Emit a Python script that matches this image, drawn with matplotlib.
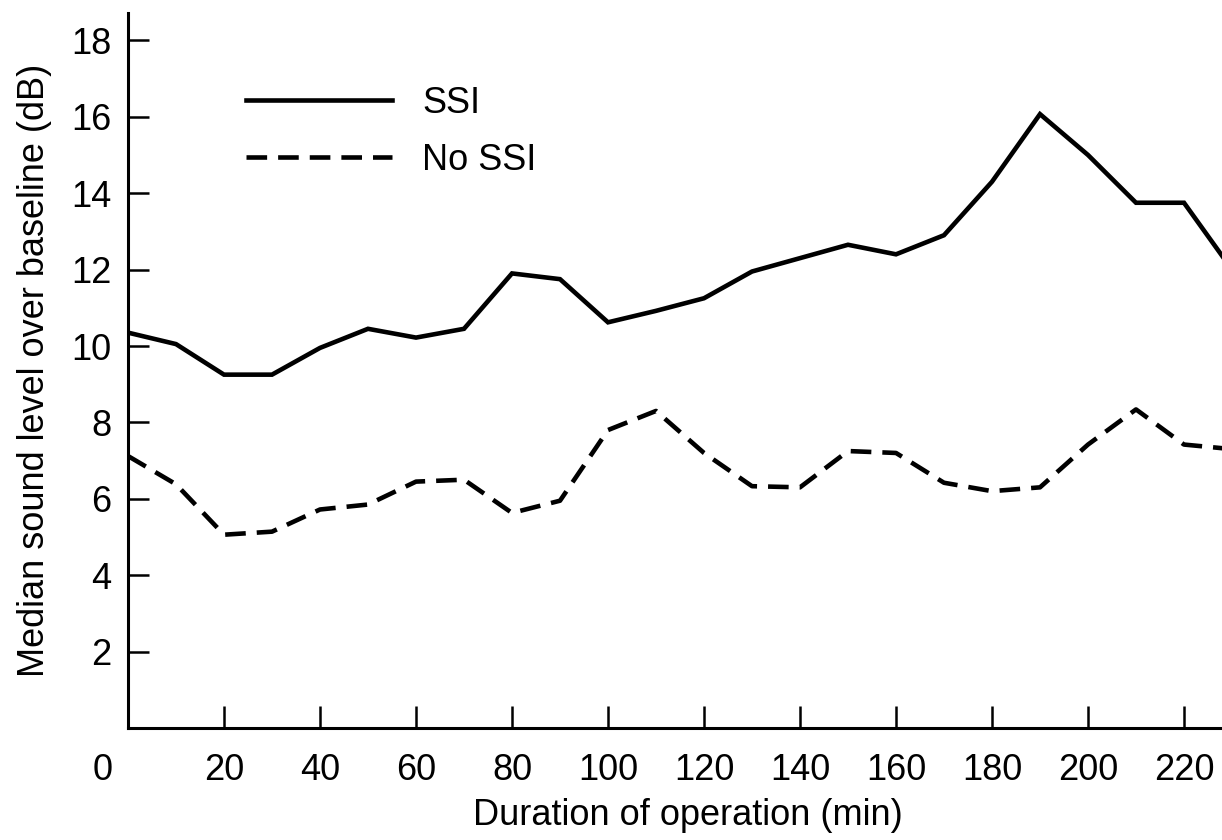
import matplotlib
matplotlib.use("Agg")
import matplotlib.pyplot as plt
from matplotlib.transforms import ScaledTranslation

plt.rcParams['font.family'] = ['Liberation Sans', 'DejaVu Sans']

minutes = [0, 10, 20, 30, 40, 50, 60, 70, 80, 90, 100, 110, 120,
           130, 140, 150, 160, 170, 180, 190, 200, 210, 220, 230]
ssi = [10.35, 10.05, 9.25, 9.25, 9.95, 10.45, 10.22, 10.45, 11.9, 11.75, 10.62, 10.92,
       11.25, 11.95, 12.3, 12.65, 12.4, 12.9, 14.3, 16.07, 15.0, 13.75, 13.75, 12.0]
no_ssi = [7.12, 6.38, 5.06, 5.14, 5.72, 5.85, 6.45, 6.5, 5.63, 5.95, 7.8, 8.3,
          7.2, 6.33, 6.3, 7.25, 7.2, 6.42, 6.2, 6.3, 7.42, 8.34, 7.42, 7.3]
x_ticks = [0, 20, 40, 60, 80, 100, 120, 140, 160, 180, 200, 220]
y_ticks = [2, 4, 6, 8, 10, 12, 14, 16, 18]

W, H = 1222, 840
fig = plt.figure(figsize=(W / 100, H / 100), dpi=100)
left_px, right_px, bottom_px, top_px = 128, 1222, 728, 13
ax = fig.add_axes([left_px / W, 1 - bottom_px / H,
                   (right_px - left_px) / W, (bottom_px - top_px) / H])

lw = 3.3
ax.plot(minutes, ssi, color='black', lw=lw, solid_joinstyle='miter', label='SSI')
ax.plot(minutes, no_ssi, color='black', lw=lw, dashes=(4.5, 2.4),
        dash_capstyle='butt', label='No SSI')

ax.set_xlim(0, (right_px - left_px) / 4.8)
ax.set_ylim(0, (bottom_px - top_px) / 38.2)

for s in ['top', 'right']:
    ax.spines[s].set_visible(False)
for s in ['left', 'bottom']:
    ax.spines[s].set_linewidth(2.2)

ax.set_xticks(x_ticks)
ax.set_yticks(y_ticks)
ax.tick_params(axis='y', direction='in', length=15, width=1.8, pad=12, labelsize=26)
ax.tick_params(axis='x', direction='in', length=16, width=1.8, pad=18, labelsize=26)
ax.xaxis.get_major_ticks()[0].tick1line.set_visible(False)

lbl0 = ax.get_xticklabels()[0]
lbl0.set_transform(lbl0.get_transform() + ScaledTranslation(-0.25, 0, fig.dpi_scale_trans))

ax.set_xlabel('Duration of operation (min)', fontsize=26)
ax.xaxis.set_label_coords(0.512, -0.098)
ax.set_ylabel('Median sound level over baseline (dB)', fontsize=26, labelpad=14)

leg = ax.legend(loc='upper left', bbox_to_anchor=(0.095, 0.918), frameon=False,
                fontsize=26, handlelength=4.04, handletextpad=0.83, labelspacing=0.61,
                borderaxespad=0)

fig.savefig('out.png', dpi=100)
